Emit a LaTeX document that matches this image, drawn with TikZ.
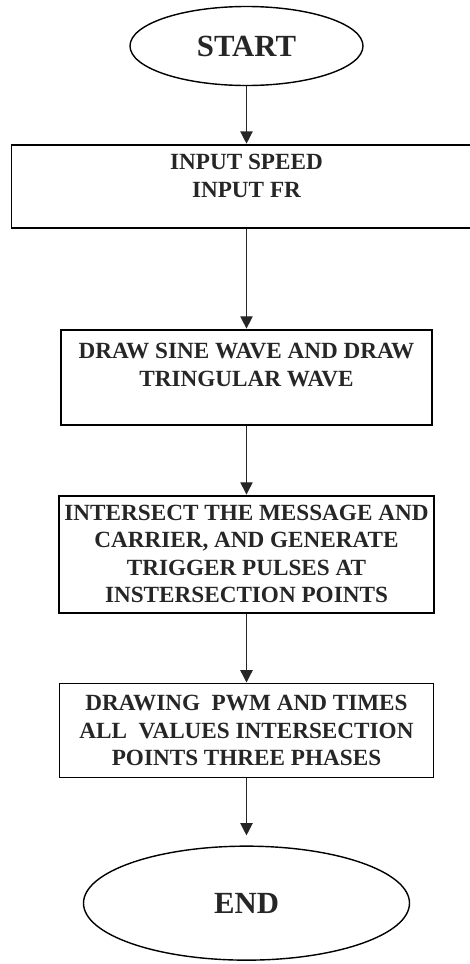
\documentclass[tikz,border=0pt]{standalone}
\usepackage{fontspec}
\setmainfont{Liberation Serif}
\usetikzlibrary{shapes.geometric, arrows.meta, positioning}
\tikzstyle{startstop} = [ellipse, draw=black, line width=0.8pt, inner sep=0pt, text centered, font=\fontsize{17.5}{20}\selectfont\bfseries, text=black!85]
\tikzstyle{process} = [rectangle, draw=black, line width=1.1pt, align=center, font=\fontsize{13.2}{15.6}\selectfont\bfseries, text=black!85]
\tikzstyle{arrow} = [line width=0.7pt, draw=black!85, -{Triangle[width=7pt,length=7pt]}]

\begin{document}
\begin{tikzpicture}
\useasboundingbox (0,0) rectangle (9.38,-19.28);

\node (start) [startstop, minimum width=4.66cm, minimum height=1.58cm] at (4.93,-0.92) {START};
\node (input) [process, below=1.15cm of start, minimum width=9.4cm, minimum height=1.66cm, text depth=12pt] {INPUT SPEED\\INPUT FR};
\node (wave) [process, below=2.0cm of input, minimum width=7.42cm, minimum height=1.9cm, text depth=14pt] {DRAW SINE WAVE AND DRAW\\TRINGULAR WAVE};
\node (cross) [process, below=1.38cm of wave, minimum width=7.5cm, minimum height=2.34cm] {INTERSECT THE MESSAGE AND\\CARRIER, AND GENERATE\\TRIGGER PULSES AT\\INSTERSECTION POINTS};
\node (pwm) [process, below=1.38cm of cross, minimum width=7.48cm, minimum height=1.88cm] {DRAWING\ \ PWM AND TIMES\\ALL\ \ VALUES INTERSECTION\\POINTS THREE PHASES};
\node (stop) [startstop, below=1.34cm of pwm, minimum width=6.52cm, minimum height=2.28cm] {END};

\draw [arrow] (start) -- (input);
\draw [arrow] (input) -- (wave);
\draw [arrow] (wave) -- (cross);
\draw [arrow] (cross) -- (pwm);
\draw [arrow, shorten >=0.2cm] (pwm) -- (stop);

\end{tikzpicture}
\end{document}
